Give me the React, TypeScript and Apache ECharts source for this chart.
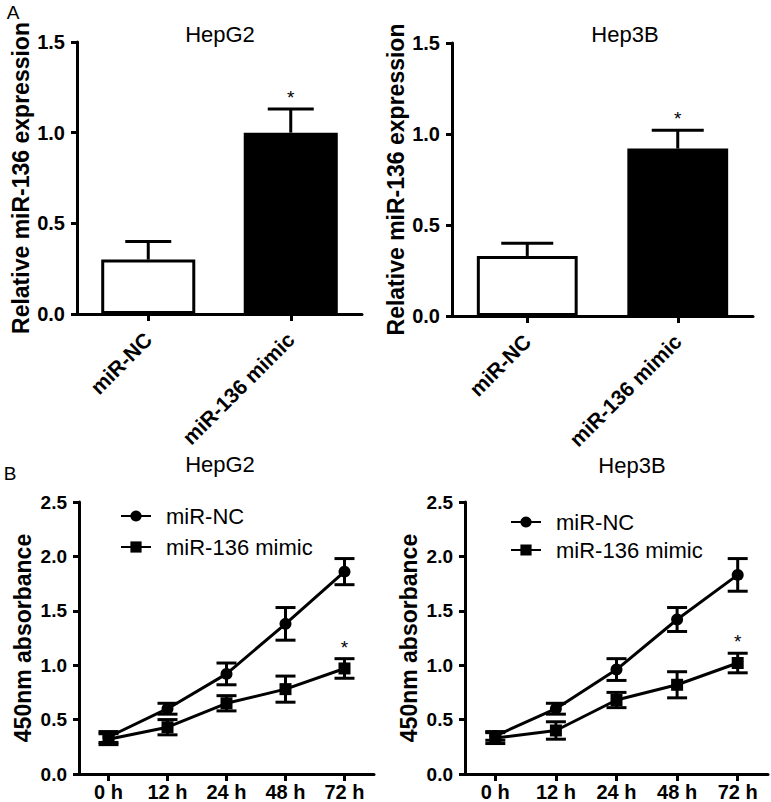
import React, { useEffect, useRef } from 'react';
import * as echarts from 'echarts';

// ---------- data ----------
const barCategories = ['miR-NC', 'miR-136 mimic'];
const hepg2ExprMean = [0.30, 1.00];
const hepg2ExprSD = [0.10, 0.13];
const hep3bExprMean = [0.33, 0.92];
const hep3bExprSD = [0.07, 0.10];
const barColors = ['#ffffff', '#000000'];
const barSignificant = [0, 1];

const timeLabels = ['0 h', '12 h', '24 h', '48 h', '72 h'];
const hepg2NCMean = [0.34, 0.60, 0.92, 1.38, 1.86];
const hepg2NCSD = [0.05, 0.05, 0.10, 0.15, 0.12];
const hepg2MimicMean = [0.32, 0.43, 0.65, 0.78, 0.97];
const hepg2MimicSD = [0.05, 0.07, 0.07, 0.12, 0.09];
const hep3bNCMean = [0.35, 0.60, 0.96, 1.42, 1.83];
const hep3bNCSD = [0.04, 0.05, 0.10, 0.11, 0.15];
const hep3bMimicMean = [0.33, 0.40, 0.68, 0.82, 1.02];
const hep3bMimicSD = [0.05, 0.08, 0.07, 0.12, 0.09];
const ncSignificant = [0, 0, 0, 0, 0];
const mimicSignificant = [0, 0, 0, 0, 1];

const barTicks = { min: 0, max: 1.5, interval: 0.5 };
const lineTicks = { min: 0, max: 2.5, interval: 0.5 };

const FONT = '"Liberation Sans", Arial, Helvetica, sans-serif';

const errData = (mean: number[], sd: number[], sig: number[]) =>
  mean.map((m, i) => [i, m, sd[i], sig[i]]);

const makeErrorRender = (capHalf: number, topOnly: boolean) => (params: any, api: any) => {
  const x = api.value(0);
  const m = api.value(1);
  const sd = api.value(2);
  const star = api.value(3);
  const pTop = api.coord([x, m + sd]);
  const pMid = api.coord([x, m]);
  const pBot = api.coord([x, m - sd]);
  const style = { stroke: '#000', lineWidth: 3 };
  const children: any[] = [
    { type: 'line', shape: { x1: pTop[0], y1: pTop[1], x2: pTop[0], y2: topOnly ? pMid[1] : pBot[1] }, style },
    { type: 'line', shape: { x1: pTop[0] - capHalf, y1: pTop[1], x2: pTop[0] + capHalf, y2: pTop[1] }, style },
  ];
  if (!topOnly) {
    children.push({ type: 'line', shape: { x1: pBot[0] - capHalf, y1: pBot[1], x2: pBot[0] + capHalf, y2: pBot[1] }, style });
  }
  if (star) {
    children.push({
      type: 'text',
      x: pTop[0],
      y: pTop[1] - 2,
      style: { text: '*', fontSize: 19, fontFamily: FONT, fill: '#000', align: 'center', verticalAlign: 'bottom' },
    });
  }
  return { type: 'group', children };
};

const axisLineStyle = { show: true, lineStyle: { color: '#000', width: 3 } };
const tickStyle = { show: true, length: 6, lineStyle: { color: '#000', width: 3 } };

const makeYAxis = (gridIndex: number, ticks: any, name: string, labelSize: number) => ({
  type: 'value',
  gridIndex,
  min: ticks.min,
  max: ticks.max,
  interval: ticks.interval,
  splitLine: { show: false },
  axisLine: axisLineStyle,
  axisTick: tickStyle,
  axisLabel: {
    formatter: (v: number) => v.toFixed(1),
    fontSize: labelSize,
    fontWeight: 'bold',
    fontFamily: FONT,
    color: '#000',
    margin: 12,
  },
  name,
  nameLocation: 'middle',
  nameGap: 45,
  nameTextStyle: { fontSize: 23, fontWeight: 'bold', fontFamily: FONT, color: '#000' },
});

const makeXAxis = (gridIndex: number, data: string[], rotate: number, margin: number, size: number) => ({
  type: 'category',
  gridIndex,
  data,
  boundaryGap: true,
  axisLine: axisLineStyle,
  axisTick: { ...tickStyle, length: 7, alignWithLabel: true },
  axisLabel: {
    interval: 0,
    rotate,
    fontSize: size,
    fontWeight: 'bold',
    fontFamily: FONT,
    color: '#000',
    margin,
  },
});

const titleText = (text: string, x: number, y: number, size = 22) => ({
  type: 'text',
  x,
  y,
  style: { text, fontSize: size, fontFamily: FONT, fill: '#000', align: 'center', verticalAlign: 'middle' },
});

export default function App() {
  const ref = useRef<HTMLDivElement>(null);

  useEffect(() => {
    if (!ref.current) return;
    const chart = echarts.init(ref.current, undefined, { renderer: 'svg' });

    const barSeries = (idx: number, mean: number[], width: string) => ({
      type: 'bar',
      xAxisIndex: idx,
      yAxisIndex: idx,
      barWidth: width,
      data: mean.map((v, i) => ({ value: v, itemStyle: { color: barColors[i] } })),
      itemStyle: { borderColor: '#000', borderWidth: 3 },
      z: 2,
    });

    const lineSeries = (idx: number, name: string, data: number[], symbol: string) => ({
      type: 'line',
      name,
      xAxisIndex: idx,
      yAxisIndex: idx,
      data,
      symbol,
      symbolSize: 12,
      lineStyle: { color: '#000', width: 3 },
      itemStyle: { color: '#000' },
      z: 3,
    });

    const errSeries = (idx: number, data: any[], capHalf: number, topOnly: boolean) => ({
      type: 'custom',
      xAxisIndex: idx,
      yAxisIndex: idx,
      data,
      renderItem: makeErrorRender(capHalf, topOnly),
      z: 4,
      silent: true,
    });

    const legendBase = {
      orient: 'vertical',
      itemWidth: 30,
      itemHeight: 14,
      selectedMode: false,
      data: ['miR-NC', 'miR-136 mimic'],
      textStyle: { fontSize: 22, fontFamily: FONT, color: '#000', padding: [0, 0, 0, 10] },
    };

    chart.setOption({
      animation: false,
      backgroundColor: '#fff',
      grid: [
        { left: 77, top: 42, width: 285, height: 272 },
        { left: 452, top: 43, width: 301, height: 273 },
        { left: 79, top: 502, width: 295, height: 272 },
        { left: 465, top: 502, width: 303, height: 272 },
      ],
      xAxis: [
        makeXAxis(0, barCategories, 45, 22, 21),
        makeXAxis(1, barCategories, 45, 22, 21),
        makeXAxis(2, timeLabels, 0, 8, 20),
        makeXAxis(3, timeLabels, 0, 8, 20),
      ],
      yAxis: [
        makeYAxis(0, barTicks, 'Relative miR-136 expression', 20),
        makeYAxis(1, barTicks, 'Relative miR-136 expression', 20),
        makeYAxis(2, lineTicks, '450nm absorbance', 19),
        makeYAxis(3, lineTicks, '450nm absorbance', 19),
      ],
      legend: [
        { ...legendBase, left: 115, top: 500, itemGap: 9 },
        { ...legendBase, left: 505, top: 506, itemGap: 6 },
      ],
      graphic: [
        titleText('A', 13, 12, 19),
        titleText('HepG2', 220, 34),
        titleText('Hep3B', 625, 34),
        titleText('B', 10, 473, 19),
        titleText('HepG2', 220, 464),
        titleText('Hep3B', 632, 465),
      ],
      series: [
        barSeries(0, hepg2ExprMean, '66%'),
        errSeries(0, errData(hepg2ExprMean, hepg2ExprSD, barSignificant), 23, true),
        barSeries(1, hep3bExprMean, '67%'),
        errSeries(1, errData(hep3bExprMean, hep3bExprSD, barSignificant), 26, true),

        lineSeries(2, 'miR-NC', hepg2NCMean, 'circle'),
        lineSeries(2, 'miR-136 mimic', hepg2MimicMean, 'rect'),
        errSeries(2, errData(hepg2NCMean, hepg2NCSD, ncSignificant), 10, false),
        errSeries(2, errData(hepg2MimicMean, hepg2MimicSD, mimicSignificant), 10, false),

        lineSeries(3, 'miR-NC', hep3bNCMean, 'circle'),
        lineSeries(3, 'miR-136 mimic', hep3bMimicMean, 'rect'),
        errSeries(3, errData(hep3bNCMean, hep3bNCSD, ncSignificant), 10, false),
        errSeries(3, errData(hep3bMimicMean, hep3bMimicSD, mimicSignificant), 10, false),
      ],
    });

    return () => chart.dispose();
  }, []);

  return (
    <div
      ref={ref}
      style={{ position: 'absolute', left: 0, top: 0, width: 771, height: 802, background: '#fff' }}
    />
  );
}
